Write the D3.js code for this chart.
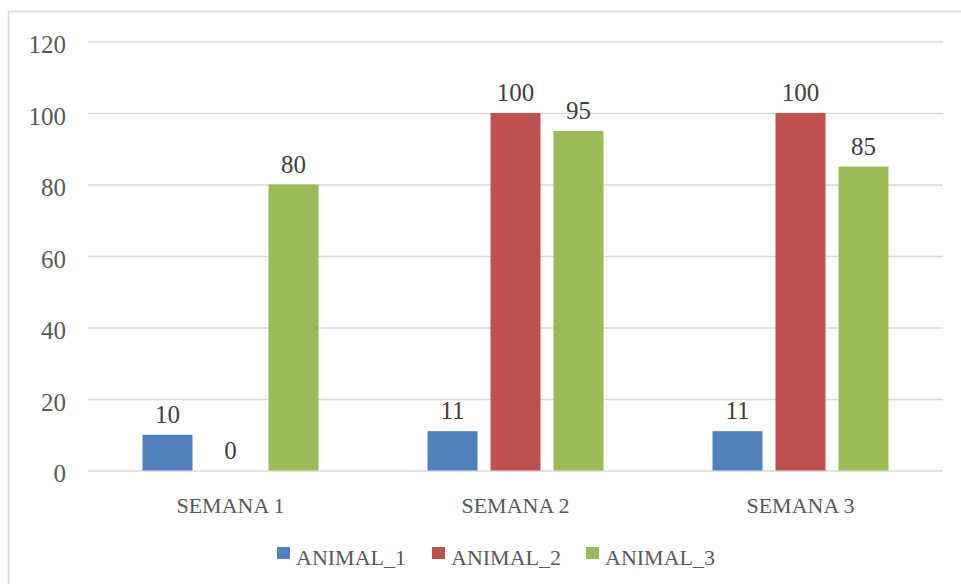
<!DOCTYPE html>
<html>
<head>
<meta charset="utf-8">
<script src="https://cdn.jsdelivr.net/npm/d3@7"></script>
<style>
  html, body { margin: 0; padding: 0; background: #fff; }
  svg { display: block; }
</style>
</head>
<body>
<svg id="chart" width="961" height="584"></svg>
<script>
const categories = ["SEMANA 1", "SEMANA 2", "SEMANA 3"];
const seriesNames = ["ANIMAL_1", "ANIMAL_2", "ANIMAL_3"];
const animal1 = [10, 11, 11];
const animal2 = [0, 100, 100];
const animal3 = [80, 95, 85];
const yTicks = [0, 20, 40, 60, 80, 100, 120];
const colors = ["#4F81BD", "#C0504D", "#9BBB59"];

(function () {
const seriesValues = [animal1, animal2, animal3];
const FONT = "'Liberation Serif', 'DejaVu Serif', serif";
const NUM_SIZE = "25px";
const TXT_SIZE = "22px";

const svg = d3.select("#chart");
const W = 961, H = 584;
const pLeft = 88, pRight = 943, pTop = 41.5, pBottom = 470.5;

// outer border
svg.append("rect")
  .attr("x", 8.5).attr("y", 11.5)
  .attr("width", W).attr("height", H)
  .attr("fill", "none").attr("stroke", "#D9D9D9").attr("stroke-width", 1.5);

const x0 = d3.scaleBand().domain(categories).range([pLeft, pRight]).paddingInner(0).paddingOuter(0);
const x1 = d3.scaleBand().domain(seriesNames).range([54.5, x0.bandwidth() - 54.5]).paddingInner(13 / 63).paddingOuter(0);
const y = d3.scaleLinear().domain([0, 120]).range([pBottom, pTop]);

// gridlines
const yAxis = d3.axisLeft(y).tickValues(yTicks).tickSize(-(pRight - pLeft)).tickPadding(22).tickFormat(d3.format("d"));
const gAxis = svg.append("g").attr("transform", `translate(${pLeft},0)`).call(yAxis);
gAxis.select(".domain").remove();
gAxis.selectAll(".tick line").attr("stroke", "#D9D9D9").attr("stroke-width", 1.5);
gAxis.selectAll(".tick text")
  .attr("fill", "#595959").attr("font-family", FONT).attr("font-size", NUM_SIZE)
  .attr("dy", "0.44em");

// bars
const groups = svg.append("g").selectAll("g")
  .data(categories).join("g")
  .attr("transform", d => `translate(${x0(d)},0)`);

groups.each(function(cat, ci) {
  const g = d3.select(this);
  seriesNames.forEach((s, si) => {
    const v = seriesValues[si][ci];
    g.append("rect")
      .attr("x", x1(s)).attr("width", x1.bandwidth())
      .attr("y", y(v)).attr("height", y(0) - y(v))
      .attr("fill", colors[si]);
    g.append("text")
      .attr("x", x1(s) + x1.bandwidth() / 2)
      .attr("y", y(v) - 12)
      .attr("text-anchor", "middle")
      .attr("fill", "#404040")
      .attr("font-family", FONT).attr("font-size", NUM_SIZE)
      .text(v);
  });
});

// category axis labels
svg.append("g").selectAll("text")
  .data(categories).join("text")
  .attr("x", d => x0(d) + x0.bandwidth() / 2)
  .attr("y", 513)
  .attr("text-anchor", "middle")
  .attr("fill", "#595959")
  .attr("font-family", FONT).attr("font-size", TXT_SIZE)
  .text(d => d);

// legend
const legendX = [277, 432, 586];
const legend = svg.append("g").selectAll("g")
  .data(seriesNames).join("g")
  .attr("transform", (d, i) => `translate(${legendX[i]},547)`);
legend.append("rect").attr("width", 13).attr("height", 12).attr("fill", (d, i) => colors[i]);
legend.append("text")
  .attr("x", 19).attr("y", 18)
  .attr("fill", "#595959")
  .attr("font-family", FONT).attr("font-size", TXT_SIZE)
  .text(d => d);
})();
</script>
</body>
</html>
